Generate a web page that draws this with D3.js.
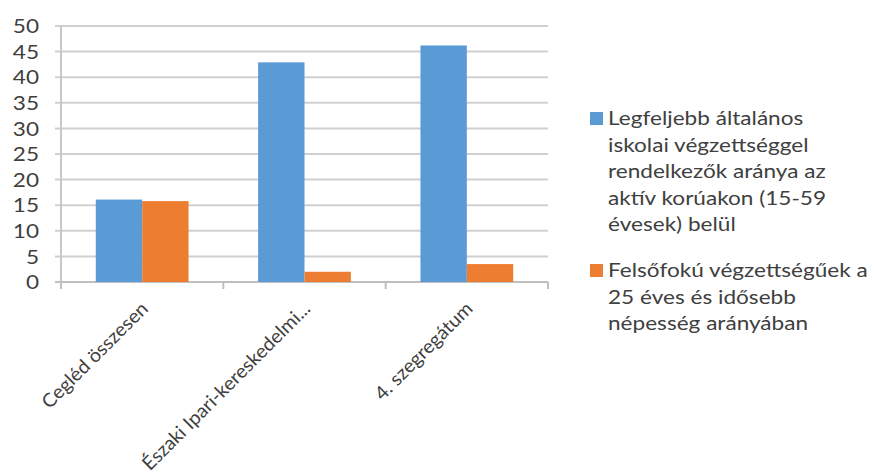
<!DOCTYPE html>
<html>
<head>
<meta charset="utf-8">
<script src="https://cdn.jsdelivr.net/npm/d3@7"></script>
<style>
  body { margin: 0; background: #fff; }
  text { font-family: Lato, "Open Sans", sans-serif; fill: #404040; }
</style>
</head>
<body>
<div id="chart"></div>
<script>
// data
var categories = ["Cegléd összesen", "Északi Ipari-kereskedelmi...", "4. szegregátum"];
var seriesNames = [
  ["Legfeljebb általános", "iskolai végzettséggel", "rendelkezők aránya az", "aktív korúakon (15-59", "évesek) belül"],
  ["Felsőfokú végzettségűek a", "25 éves és idősebb", "népesség arányában"]
];
var basicEdu  = [16.1, 42.9, 46.2];
var higherEdu = [15.8, 2.0, 3.5];
var yTicks = [0, 5, 10, 15, 20, 25, 30, 35, 40, 45, 50];
var colors = ["#5b9bd5", "#ed7d31"];

var W = 877, H = 476;
var plot = {left: 61, right: 548, top: 26, bottom: 282};
var stretch = 1.13; // the original text looks a bit wide

var svg = d3.select("#chart").append("svg")
    .attr("width", W)
    .attr("height", H);

var x = d3.scaleBand()
    .domain(categories)
    .range([plot.left, plot.right]);

// gap width 150% => each bar = band / 3.5
var barW = x.bandwidth() / 3.5;

var y = d3.scaleLinear()
    .domain([0, 50])
    .range([plot.bottom, plot.top]);

// gridlines
svg.append("g")
  .selectAll("line")
  .data(yTicks)
  .enter().append("line")
    .attr("x1", plot.left - 6)
    .attr("x2", plot.right)
    .attr("y1", function(d) { return y(d); })
    .attr("y2", function(d) { return y(d); })
    .attr("stroke", function(d) { return d === 0 ? "#bfbfbf" : "#d0d0d0"; })
    .attr("stroke-width", 2);

// y labels
svg.append("g")
  .attr("transform", "translate(39,0) scale(" + stretch + ",1)")
  .selectAll("text")
  .data(yTicks)
  .enter().append("text")
    .attr("x", 0)
    .attr("y", function(d) { return y(d); })
    .attr("dy", "0.36em")
    .attr("text-anchor", "end")
    .style("font-size", "20px")
    .text(function(d) { return d; });

// y axis line
svg.append("line")
  .attr("x1", plot.left).attr("x2", plot.left)
  .attr("y1", plot.top).attr("y2", plot.bottom + 6)
  .attr("stroke", "#c8c8c8")
  .attr("stroke-width", 2);

// x category ticks
var xTickPos = categories.map(function(c) { return x(c); }).concat([plot.right]);
svg.append("g")
  .selectAll("line")
  .data(xTickPos)
  .enter().append("line")
    .attr("x1", function(d) { return d; })
    .attr("x2", function(d) { return d; })
    .attr("y1", plot.bottom)
    .attr("y2", plot.bottom + 7)
    .attr("stroke", "#bfbfbf")
    .attr("stroke-width", 2);

// bars
[basicEdu, higherEdu].forEach(function(vals, si) {
  svg.append("g")
    .selectAll("rect")
    .data(vals)
    .enter().append("rect")
      .attr("x", function(d, i) { return x(categories[i]) + barW * (0.75 + si); })
      .attr("y", function(d) { return y(d); })
      .attr("width", barW)
      .attr("height", function(d) { return y(0) - y(d); })
      .attr("fill", colors[si]);
});

// x labels, rotated
svg.append("g")
  .selectAll("text")
  .data(categories)
  .enter().append("text")
    .attr("transform", function(d) {
      return "translate(" + (x(d) + x.bandwidth() / 2 + 7) + "," + (plot.bottom + 28) + ") rotate(-45) scale(1.03,1)";
    })
    .attr("text-anchor", "end")
    .style("font-size", "19px")
    .text(function(d) { return d; });

// legend
var legendY = [118, 270];
var lineH = 26.5;
seriesNames.forEach(function(lines, si) {
  svg.append("rect")
    .attr("x", 590)
    .attr("y", legendY[si] - 6)
    .attr("width", 13)
    .attr("height", 13)
    .attr("fill", colors[si]);
  svg.append("g")
    .attr("transform", "translate(608,0) scale(" + stretch + ",1)")
    .selectAll("text")
    .data(lines)
    .enter().append("text")
      .attr("x", 0)
      .attr("y", function(d, i) { return legendY[si] + i * lineH; })
      .attr("dy", "0.36em")
      .style("font-size", "20px")
      .text(function(d) { return d; });
});
</script>
</body>
</html>
